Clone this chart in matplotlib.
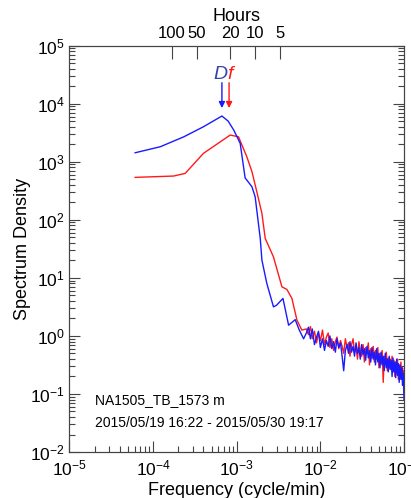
import numpy as np
import matplotlib
matplotlib.use("Agg")
import matplotlib.pyplot as plt

plt.rcParams['font.family'] = ['Liberation Sans', 'DejaVu Sans']
plt.rcParams['mathtext.fontset'] = 'custom'
plt.rcParams['mathtext.rm'] = 'Liberation Sans'
plt.rcParams['mathtext.it'] = 'Liberation Sans:italic'

# low-frequency (smooth) part of each spectrum: frequency (cycle/min), log10(density)
blue_freq_low = [6.1e-5, 1.22e-4, 2.33e-4, 4.0e-4, 6.65e-4, 7.9e-4, 9.2e-4, 1.10e-3,
                 1.26e-3, 1.30e-3, 1.52e-3, 1.66e-3, 1.91e-3, 2.0e-3, 2.29e-3, 2.75e-3,
                 3.0e-3, 3.57e-3, 4.17e-3, 5.0e-3, 5.6e-3, 6.3e-3]
blue_log_low = [3.155, 3.259, 3.43, 3.603, 3.788, 3.70, 3.547, 3.317,
                2.72, 2.697, 2.569, 2.397, 1.68, 1.305, 0.903, 0.50,
                0.53, 0.645, 0.184, 0.28, 0.10, -0.05]

red_freq_low = [6.1e-5, 1.76e-4, 2.42e-4, 4.0e-4, 8.35e-4, 1.05e-3, 1.32e-3, 1.52e-3,
                1.74e-3, 2.0e-3, 2.19e-3, 2.75e-3, 3.47e-3, 3.98e-3, 4.57e-3, 5.25e-3,
                6.0e-3]
red_log_low = [2.731, 2.754, 2.80, 3.145, 3.46, 3.43, 3.086, 2.83,
               2.48, 2.11, 1.68, 1.36, 0.845, 0.80, 0.645, 0.27, 0.10]

# high-frequency (noisy) part, shared frequency bins
freq_high = [0.0068, 0.0072, 0.0076, 0.0080, 0.0085, 0.0090, 0.0095, 0.0100, 0.0106,
             0.0112, 0.0118, 0.0124, 0.0130, 0.0137, 0.0144, 0.0151, 0.0158, 0.0166,
             0.0174, 0.0182, 0.0190, 0.0199, 0.0208, 0.0217, 0.0226, 0.0236, 0.0246,
             0.0256, 0.0267, 0.0278, 0.0289, 0.0300, 0.0312, 0.0324, 0.0336, 0.0348,
             0.0361, 0.0374, 0.0387, 0.0400, 0.0414, 0.0428, 0.0442, 0.0456, 0.0471,
             0.0486, 0.0501, 0.0516, 0.0532, 0.0548, 0.0564, 0.0580, 0.0597, 0.0614,
             0.0631, 0.0648, 0.0666, 0.0684, 0.0702, 0.0720, 0.0739, 0.0758, 0.0777,
             0.0796, 0.0816, 0.0836, 0.0856, 0.0876, 0.0897, 0.0918, 0.0939, 0.0960,
             0.0980, 0.1000]
blue_log_high = [0.05, 0.15, -0.05, 0.12, -0.15, -0.02, 0.08, -0.20, -0.05,
                 -0.25, -0.08, -0.18, 0.00, -0.22, -0.10, -0.28, -0.05, -0.20,
                 -0.12, -0.35, -0.60, -0.25, -0.15, -0.30, -0.10, -0.28, -0.18,
                 -0.35, -0.12, -0.30, -0.20, -0.40, -0.15, -0.32, -0.22, -0.42,
                 -0.18, -0.38, -0.25, -0.45, -0.20, -0.40, -0.28, -0.50, -0.22,
                 -0.45, -0.30, -0.55, -0.28, -0.50, -0.35, -0.60, -0.30, -0.55,
                 -0.40, -0.62, -0.35, -0.58, -0.42, -0.70, -0.38, -0.62, -0.45,
                 -0.72, -0.40, -0.68, -0.48, -0.80, -0.50, -0.75, -0.55, -0.85,
                 -0.65, -1.10]
red_log_high = [0.12, 0.02, 0.16, -0.05, 0.08, -0.12, 0.05, -0.08, 0.10,
                -0.15, -0.02, 0.05, -0.20, -0.05, -0.25, -0.10, -0.02, -0.22,
                -0.08, -0.18, -0.30, -0.05, -0.20, -0.12, -0.35, -0.15, -0.05,
                -0.28, -0.20, -0.40, -0.10, -0.25, -0.35, -0.15, -0.45, -0.20,
                -0.30, -0.12, -0.50, -0.22, -0.38, -0.18, -0.45, -0.25, -0.40,
                -0.20, -0.55, -0.30, -0.48, -0.25, -0.80, -0.35, -0.50, -0.28,
                -0.60, -0.38, -0.55, -0.40, -0.55, -0.35, -0.62, -0.42, -0.70,
                -0.45, -0.60, -0.40, -0.75, -0.50, -0.65, -0.45, -0.72, -0.55,
                -0.80, -0.60]

hour_ticks = [100, 50, 20, 10, 5]
freq_D = 6.65e-4
freq_f = 8.1e-4

blue_f = np.array(blue_freq_low + freq_high)
blue_s = np.power(10.0, np.array(blue_log_low + blue_log_high))
red_f = np.array(red_freq_low + freq_high)
red_s = np.power(10.0, np.array(red_log_low + red_log_high))

fig = plt.figure(figsize=(4.11, 4.98), dpi=100)
ax = fig.add_axes([0.169, 0.0924, 0.814, 0.8159])

ax.plot(red_f, red_s, color='#ff1a1a', lw=1.0)
ax.plot(blue_f, blue_s, color='#1a1aff', lw=1.0)

ax.set_xscale('log')
ax.set_yscale('log')
ax.set_xlim(1e-5, 1e-1)
ax.set_ylim(1e-2, 1e5)
ax.set_xticks([1e-5, 1e-4, 1e-3, 1e-2, 1e-1])
ax.set_yticks([1e-2, 1e-1, 1e0, 1e1, 1e2, 1e3, 1e4, 1e5])
ax.tick_params(which='major', direction='in', length=8, width=0.8, labelsize=12.5,
               top=False, right=True, colors='#444444', labelcolor='black')
ax.tick_params(which='minor', direction='in', length=4, width=0.8,
               top=False, right=True, colors='#444444')
ax.tick_params(axis='x', which='major', pad=5)
for s in ax.spines.values():
    s.set_color('#444444')
ax.set_xlabel('Frequency (cycle/min)', fontsize=13, labelpad=2)
ax.set_ylabel('Spectrum Density', fontsize=13)
ax.yaxis.set_label_coords(-0.115, 0.5)

# top axis in hours
ax2 = ax.twiny()
ax2.set_xscale('log')
ax2.set_xlim(ax.get_xlim())
ax2.set_xticks([1.0 / (h * 60.0) for h in hour_ticks])
ax2.set_xticklabels([str(h) for h in hour_ticks])
ax2.xaxis.set_minor_locator(matplotlib.ticker.NullLocator())
ax2.tick_params(which='major', direction='in', length=9, width=0.8, labelsize=12,
                pad=3, colors='#444444', labelcolor='black')
ax2.set_xlabel('Hours', fontsize=13, labelpad=4)
for s in ax2.spines.values():
    s.set_color('#444444')

# arrows marking D and f
ax.annotate('', xy=(freq_D, 8.4e3), xytext=(freq_D, 2.3e4),
            arrowprops=dict(arrowstyle='-|>', color='#1a1aff', lw=1.0,
                            mutation_scale=9, shrinkA=0, shrinkB=0))
ax.annotate('', xy=(freq_f, 8.4e3), xytext=(freq_f, 2.3e4),
            arrowprops=dict(arrowstyle='-|>', color='#ff1a1a', lw=1.0,
                            mutation_scale=9, shrinkA=0, shrinkB=0))
ax.text(freq_D * 0.96, 2.25e4, 'D', color='#3344aa', style='italic', fontsize=14,
        ha='center', va='bottom')
ax.text(freq_f * 1.03, 2.25e4, 'f', color='#ff1a1a', style='italic', fontsize=14,
        ha='center', va='bottom')

ax.text(2.0e-5, 0.078, 'NA1505_TB_1573 m', fontsize=10, ha='left', va='center')
ax.text(2.0e-5, 0.031, '2015/05/19 16:22 - 2015/05/30 19:17', fontsize=10,
        ha='left', va='center')

fig.savefig('out.png', dpi=100)
